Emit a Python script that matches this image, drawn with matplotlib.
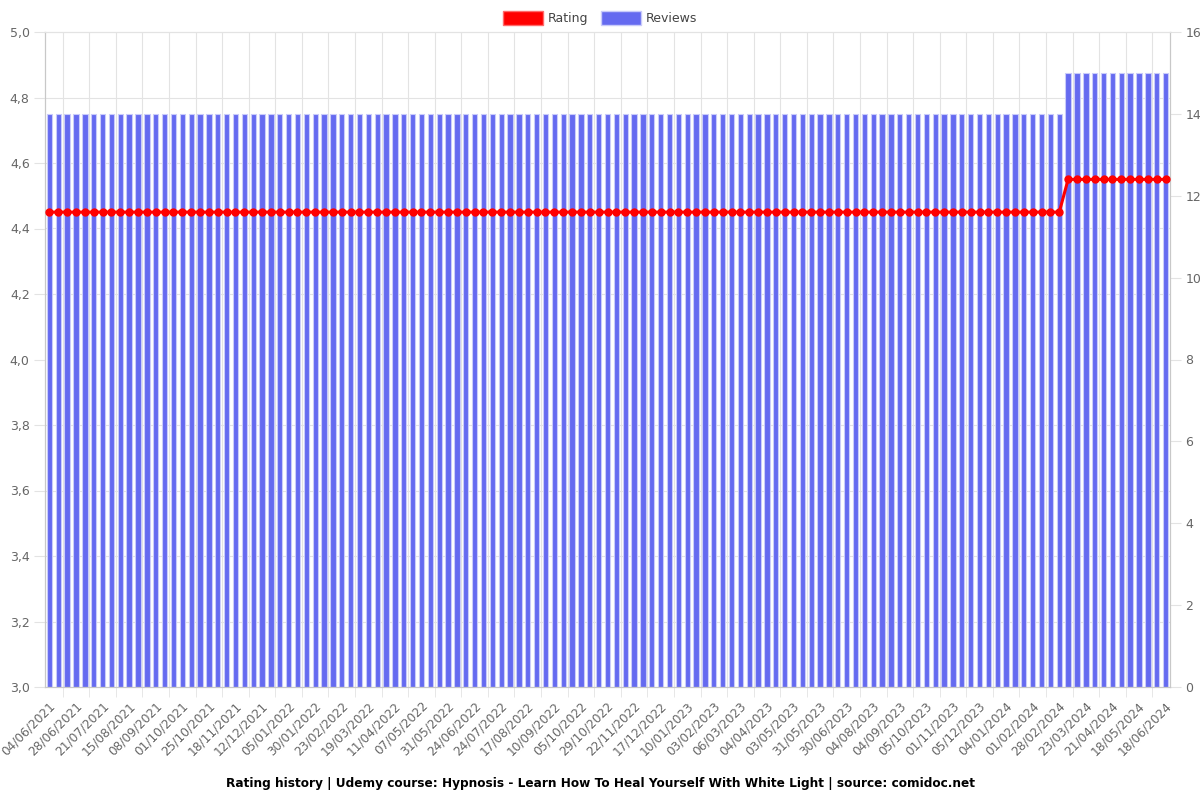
'''
Rating history chart for the Udemy course (comidoc.net style)
'''

import matplotlib
matplotlib.use("Agg")
import matplotlib.pyplot as plt
import matplotlib.transforms as mtransforms
from matplotlib.patches import Patch
from matplotlib.ticker import FuncFormatter, FixedLocator
import numpy as np

# -------- Data ----------
# dates shown on the x axis (every 3rd snapshot is labelled)
tick_dates = [
    "04/06/2021", "28/06/2021", "21/07/2021", "15/08/2021", "08/09/2021",
    "01/10/2021", "25/10/2021", "18/11/2021", "12/12/2021", "05/01/2022",
    "30/01/2022", "23/02/2022", "19/03/2022", "11/04/2022", "07/05/2022",
    "31/05/2022", "24/06/2022", "24/07/2022", "17/08/2022", "10/09/2022",
    "05/10/2022", "29/10/2022", "22/11/2022", "17/12/2022", "10/01/2023",
    "03/02/2023", "06/03/2023", "04/04/2023", "03/05/2023", "31/05/2023",
    "30/06/2023", "04/08/2023", "04/09/2023", "05/10/2023", "01/11/2023",
    "05/12/2023", "04/01/2024", "01/02/2024", "28/02/2024", "23/03/2024",
    "21/04/2024", "18/05/2024", "18/06/2024",
]

# one value per snapshot (127 snapshots)
reviews = [14] * 115 + [15] * 12
rating = [4.45] * 115 + [4.55] * 12

title = ("Rating history | Udemy course: Hypnosis - Learn How To Heal "
         "Yourself With White Light | source: comidoc.net")

# -------- Plot graph ----------
bar_color = "#656af0"
line_color = "#ff0000"
grid_color = "#e3e3e3"
axis_color = "#c8c8c8"
text_color = "#666666"

x = np.arange(len(reviews))

fig = plt.figure(figsize=(12, 8), dpi=100)
ax = fig.add_axes([0.0375, 0.14125, 0.9375, 0.81875])   # rating (left)
ax2 = ax.twinx()                                        # reviews (right)

# bars go underneath the rating line
ax.set_zorder(ax2.get_zorder() + 1)
ax.patch.set_visible(False)

label_pos = np.arange(0, len(reviews), 3)
grid_pos = label_pos[:-1] + 1.5

# vertical grid under the bars
for g in grid_pos:
    ax2.axvline(g, color=grid_color, linewidth=0.8, zorder=0.5)

ax2.bar(x, reviews, width=0.6, color=bar_color,
        edgecolor="#c9cbfa", linewidth=0.8, zorder=2)
ax.plot(x, rating, color=line_color, linewidth=2.2,
        marker="o", markersize=5, zorder=3)

ax.set_xlim(-0.5, len(reviews) - 0.5)
ax.set_ylim(3.0, 5.0)
ax2.set_ylim(0, 16)

# left axis ticks
ax.set_yticks(np.arange(3.0, 5.01, 0.2))
ax.yaxis.set_major_formatter(FuncFormatter(lambda v, p: f"{v:.1f}".replace(".", ",")))
ax.tick_params(axis="y", length=8, color=grid_color, labelcolor=text_color,
               labelsize=9, pad=3)

# right axis ticks
ax2.set_yticks(np.arange(0, 17, 2))
ax2.tick_params(axis="y", length=8, color=grid_color, labelcolor=text_color,
                labelsize=9, pad=3)

# horizontal grid follows the rating ticks, drawn on the bar axes
ax2.yaxis.set_minor_locator(FixedLocator(np.linspace(0, 16, 11)))
ax2.tick_params(axis="y", which="minor", length=0)
ax2.grid(True, axis="y", which="minor", color=grid_color, linewidth=0.8, zorder=0)
ax2.set_axisbelow(True)

# x labels on every 3rd bar, small tick marks half way between labels
ax.set_xticks(label_pos)
ax.set_xticklabels(tick_dates, rotation=45, ha="right", va="center",
                   rotation_mode="anchor")
ax.tick_params(axis="x", which="major", length=0, labelcolor=text_color,
               labelsize=8.7, pad=12)
ax.xaxis.set_minor_locator(FixedLocator(grid_pos))
ax.tick_params(axis="x", which="minor", length=7, color=grid_color)

# nudge the rotated labels a little to the right
shift = mtransforms.ScaledTranslation(4 / 100, 0, fig.dpi_scale_trans)
for lab in ax.get_xticklabels():
    lab.set_transform(lab.get_transform() + shift)

for a in (ax, ax2):
    for s in a.spines.values():
        s.set_color(axis_color)
        s.set_linewidth(0.8)
ax.spines["top"].set_color(grid_color)
ax2.spines["top"].set_color(grid_color)

# legend on top
handles = [Patch(facecolor=line_color, edgecolor="#ff6b6b", label="Rating"),
           Patch(facecolor=bar_color, edgecolor="#c9cbfa", label="Reviews")]
fig.legend(handles=handles, loc="upper center", bbox_to_anchor=(0.5, 1.0),
           ncol=2, frameon=False, fontsize=9, handlelength=3.2,
           handleheight=1.3, columnspacing=1.0, handletextpad=0.4,
           labelcolor="#444444")

fig.text(0.5, 1 - 783 / 800, title, ha="center", va="center",
         fontsize=8.7, fontweight="bold")

fig.savefig("out.png", dpi=100)
